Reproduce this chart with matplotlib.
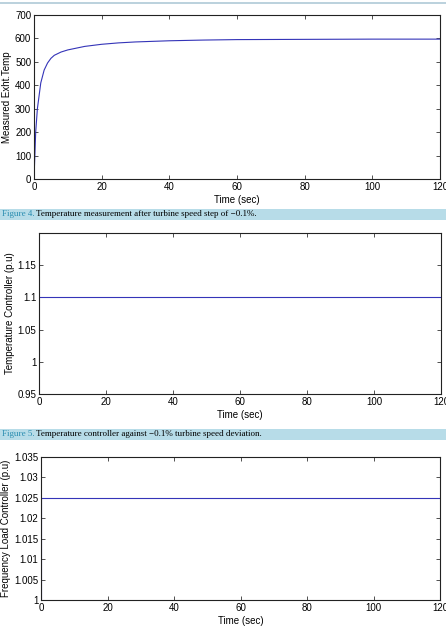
import numpy as np
import matplotlib.pyplot as plt
from matplotlib.patches import Rectangle

plt.rcParams['font.family'] = ['Liberation Sans', 'DejaVu Sans']

# Figure 4: measured exhaust temperature
t_temp = [0, 0.5, 1, 2, 3, 4, 5, 6, 8, 10, 15, 20, 25, 30, 40, 50, 60, 80, 100, 120]
temp_meas = [0, 200, 300, 410, 465, 495, 515, 528, 542, 551, 566, 575, 581, 585,
             590, 593, 595, 596, 597, 597]

# Figure 5: temperature controller output
t_tc = [0, 120]
temp_ctrl = [1.1, 1.1]

# Figure 6: frequency load controller output
t_flc = [0, 0, 120]
freq_ctrl = [1.0, 1.025, 1.025]

captions = [
    ("Figure 4.", "Temperature measurement after turbine speed step of \u22120.1%."),
    ("Figure 5.", "Temperature controller against \u22120.1% turbine speed deviation."),
]

line_col = '#3434b8'
band_col = '#b7dce8'
fig_col = '#2a8db0'

fig = plt.figure(figsize=(4.46, 6.31), dpi=100)

# thin rule at the top of the page
fig.add_artist(Rectangle((0, 1 - 4 / 631), 1, 2.5 / 631, transform=fig.transFigure,
                         color='#bcd2dd', lw=0))


def style(ax):
    ax.tick_params(direction='in', top=True, right=True, labelsize=7, length=3,
                   width=0.6, color='#333333', pad=2)
    for s in ax.spines.values():
        s.set_linewidth(0.8)
        s.set_color('#222222')
    ax.set_xlim(0, 120)
    ax.set_xticks([0, 20, 40, 60, 80, 100, 120])
    ax.set_xlabel('Time (sec)', fontsize=7, labelpad=2)


ax1 = fig.add_axes([34 / 446, 1 - 179 / 631, 406 / 446, 164 / 631])
ax1.plot(t_temp, temp_meas, color=line_col, lw=0.8)
style(ax1)
ax1.set_ylim(0, 700)
ax1.set_yticks(np.arange(0, 701, 100))
ax1.set_ylabel('Measured Exht.Temp', fontsize=7, labelpad=2)

ax2 = fig.add_axes([39 / 446, 1 - 394 / 631, 402 / 446, 161 / 631])
ax2.plot(t_tc, temp_ctrl, color=line_col, lw=0.8)
style(ax2)
ax2.set_ylim(0.95, 1.2)
ax2.set_yticks([0.95, 1.0, 1.05, 1.1, 1.15])
ax2.set_yticklabels(['0.95', '1', '1.05', '1.1', '1.15'])
ax2.set_ylabel('Temperature Controller (p.u)', fontsize=7, labelpad=2)

ax3 = fig.add_axes([41 / 446, 1 - 600 / 631, 399 / 446, 143 / 631])
ax3.plot(t_flc, freq_ctrl, color=line_col, lw=0.8)
style(ax3)
ax3.set_ylim(1.0, 1.035)
ax3.set_yticks([1.0, 1.005, 1.01, 1.015, 1.02, 1.025, 1.03, 1.035])
ax3.set_yticklabels(['1', '1.005', '1.01', '1.015', '1.02', '1.025', '1.03', '1.035'])
ax3.set_ylabel('Frequency Load Controller (p.u)', fontsize=7, labelpad=2)

# caption bands
for (head, body), (y0, y1) in zip(captions, [(209, 220), (429, 440)]):
    fig.add_artist(Rectangle((0, 1 - y1 / 631), 1, (y1 - y0) / 631,
                             transform=fig.transFigure, color=band_col, lw=0))
    yc = 1 - (y0 + y1) / 2 / 631
    fig.text(2 / 446, yc, head, fontsize=6.5, family=['Liberation Serif'],
             color=fig_col, va='center')
    fig.text(36 / 446, yc, body, fontsize=6.5, family=['Liberation Serif'],
             color='black', va='center')

fig.savefig('out.png', dpi=100)
